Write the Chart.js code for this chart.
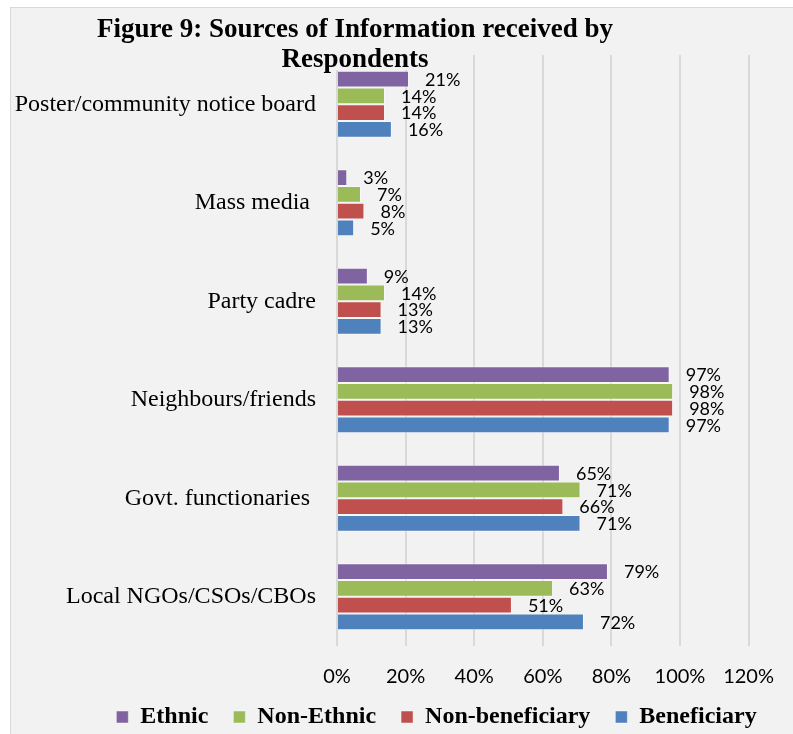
<!DOCTYPE html>
<html>
<head>
<meta charset="utf-8">
<script src="https://cdn.jsdelivr.net/npm/chart.js@4.4.0/dist/chart.umd.min.js"></script>
<style>
  html, body { margin: 0; padding: 0; background: #fff; overflow: hidden; }
  #frame { position: absolute; left: 10px; top: 7px; width: 790px; height: 740px; background: #f2f2f2; border: 1px solid #d9d9d9; }
  #wrap { position: absolute; left: 0; top: 0; width: 793px; height: 734px; }
</style>
</head>
<body>
<div id="frame"></div>
<div id="wrap"><canvas id="chart_canvas"></canvas></div>
<script>
// values (percent of respondents)
const categories = [
  'Poster/community notice board',
  'Mass media ',
  'Party cadre',
  'Neighbours/friends',
  'Govt. functionaries ',
  'Local NGOs/CSOs/CBOs'
];
const ethnic = [21, 3, 9, 97, 65, 79];
const nonEthnic = [14, 7, 14, 98, 71, 63];
const nonBeneficiary = [14, 8, 13, 98, 66, 51];
const beneficiary = [16, 5, 13, 97, 71, 72];
const xMax = 120;
const xStep = 20;
const titleLines = ['Figure 9: Sources of Information received by', 'Respondents'];

let ctx = document.getElementById('chart_canvas');

// title sits on its own grey box over the top of the plot, like the Excel original
const figTitle = {
  id: 'figTitle',
  beforeDatasetsDraw(chart) {
    const c = chart.ctx;
    c.save();
    c.fillStyle = '#f2f2f2';
    c.fillRect(88, 12, 352, 58);
    c.fillStyle = '#000';
    c.font = 'bold 27px "Liberation Serif"';
    c.textAlign = 'center';
    c.textBaseline = 'alphabetic';
    c.fillText(titleLines[0], 355, 37);
    c.fillText(titleLines[1], 355, 67);
    c.restore();
  }
};

const barLabels = {
  id: 'barLabels',
  afterDatasetsDraw(chart) {
    const c = chart.ctx;
    c.save();
    c.fillStyle = '#000';
    c.font = '18px Lato';
    c.textAlign = 'left';
    c.textBaseline = 'middle';
    chart.data.datasets.forEach((ds, i) => {
      chart.getDatasetMeta(i).data.forEach((bar, j) => {
        c.fillText(ds.data[j] + '%', bar.x + 16, bar.y + 1);
      });
    });
    c.restore();
  }
};

// legend in the original is off-centre (to the right) and tucked up a bit
const legendShift = {
  id: 'legendShift',
  afterLayout(chart) {
    const lg = chart.legend;
    lg.left += 57; lg.right += 57;
    lg.top -= 9; lg.bottom -= 9;
  }
};

let info_chart = new Chart(ctx, { // eslint-disable-line no-unused-vars, no-undef
  type: 'bar',
  data: {
    labels: categories,
    datasets: [{
      label: 'Ethnic',
      data: ethnic,
      backgroundColor: '#8064A2'
    }, {
      label: 'Non-Ethnic',
      data: nonEthnic,
      backgroundColor: '#9BBB59'
    }, {
      label: 'Non-beneficiary',
      data: nonBeneficiary,
      backgroundColor: '#C0504D'
    }, {
      label: 'Beneficiary',
      data: beneficiary,
      backgroundColor: '#4F81BD'
    }]
  },
  options: {
    indexAxis: 'y',
    responsive: true,
    maintainAspectRatio: false,
    animation: false,
    datasets: {
      bar: {
        barPercentage: 1,
        categoryPercentage: 0.68,
        borderWidth: 1,
        borderColor: 'rgba(255,255,255,0.45)',
        borderSkipped: 'start'
      }
    },
    layout: { padding: { top: 55, left: 8, right: 42, bottom: -14 } },
    scales: {
      x: {
        min: 0,
        max: xMax,
        ticks: {
          stepSize: xStep,
          padding: 19,
          color: '#000',
          font: { family: 'Lato', size: 20 },
          callback: (v) => v + '%'
        },
        grid: { color: '#d9d9d9', lineWidth: 2, drawTicks: false },
        border: { display: false },
        afterFit: (scale) => { scale.height = 43; }
      },
      y: {
        ticks: {
          padding: 21,
          color: '#000',
          font: { family: 'Liberation Serif', size: 24 }
        },
        grid: { display: false, drawTicks: false },
        border: { display: false },
        afterFit: (scale) => { scale.width = 329; }
      }
    },
    plugins: {
      legend: {
        position: 'bottom',
        labels: {
          boxWidth: 12,
          boxHeight: 12,
          padding: 25,
          color: '#000',
          font: { family: 'Liberation Serif', size: 24, weight: 'bold' }
        }
      },
      tooltip: { enabled: false }
    }
  },
  plugins: [figTitle, barLabels, legendShift]
});
</script>
</body>
</html>
